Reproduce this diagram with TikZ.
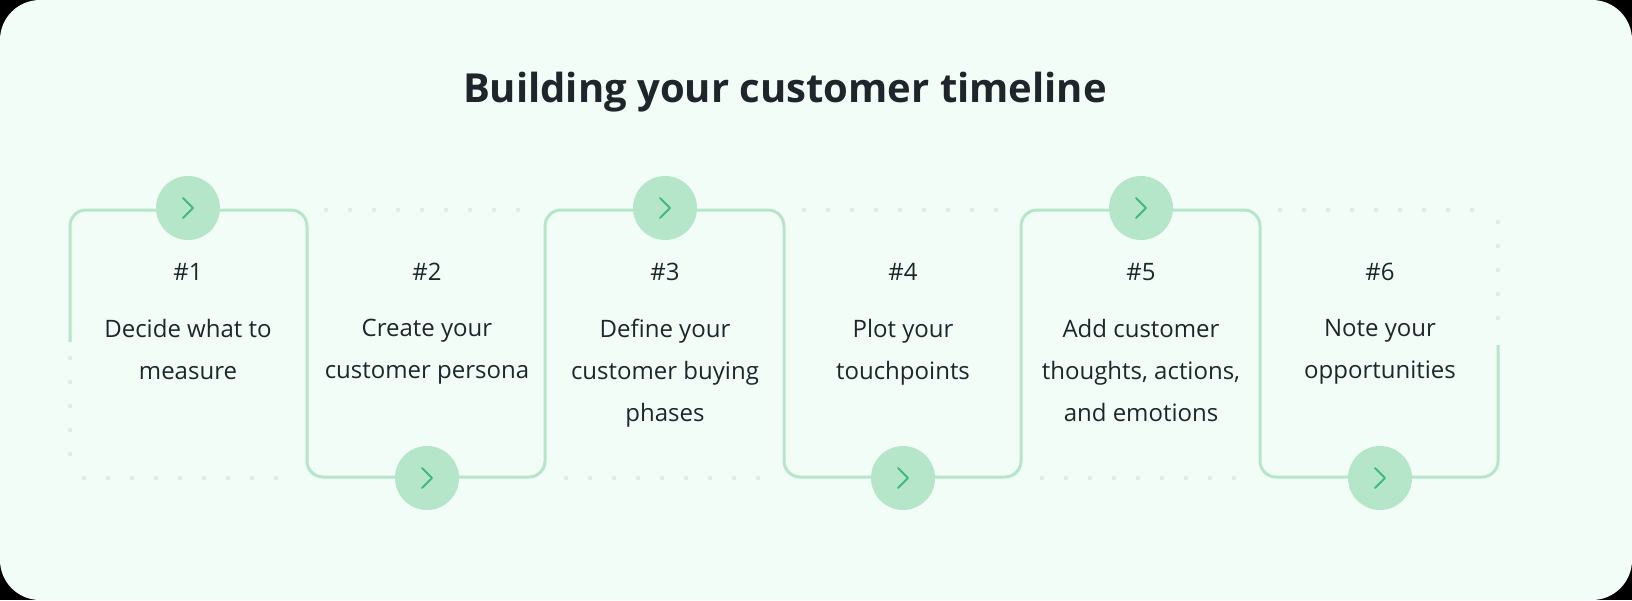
\documentclass[tikz,border=0pt]{standalone}
\usepackage{fontspec}
\setmainfont{Open Sans}
\usetikzlibrary{positioning}
\definecolor{bgmint}{HTML}{F3FDF8}
\definecolor{linegreen}{HTML}{B6E6CA}
\definecolor{dotgreen}{HTML}{DCEFE4}
\definecolor{arrowgreen}{HTML}{3DBB7A}
\definecolor{inkdark}{HTML}{1F252B}
\begin{document}
\begin{tikzpicture}[x=0.5pt,y=-0.5pt]

\tikzstyle{stepcircle}=[circle, minimum size = 32pt, inner sep=0pt, fill=linegreen]
\tikzstyle{steptext}=[align=center, text=inkdark, font=\fontsize{12}{21}\selectfont]
\tikzstyle{stepnum}=[text=inkdark, font=\fontsize{12}{14}\selectfont]
\tikzstyle{solidline}=[draw=linegreen, line width=1.5pt, rounded corners=8pt]
\tikzstyle{dotline}=[draw=dotgreen, line width=2.5pt, line cap=round, dash pattern=on 0pt off 12pt]
\tikzstyle{chevron}=[draw=arrowgreen, line width=1pt, line cap=round, line join=round]

\fill[black] (0,0) rectangle (1632,600);
\fill[bgmint, rounded corners=20pt] (0,0) rectangle (1632,600);

\node[font=\fontsize{20}{25}\selectfont\bfseries, text=inkdark] (title) at (785,92) {Building your customer timeline};

% corners of the timeline path
\coordinate (s0) at (70,342);
\coordinate (a1) at (70,210);
\coordinate (a2) at (307,210);
\coordinate (a3) at (307,477);
\coordinate (a4) at (545,477);
\coordinate (a5) at (545,210);
\coordinate (a6) at (784,210);
\coordinate (a7) at (784,477);
\coordinate (a8) at (1021,477);
\coordinate (a9) at (1021,210);
\coordinate (a10) at (1260,210);
\coordinate (a11) at (1260,477);
\coordinate (a12) at (1498,477);
\coordinate (e0) at (1498,345);

% dotted parts
\draw[dotline] (70,358) -- (70,466);
\draw[dotline] (84,478) -- (296,478);
\draw[dotline] (326,210) -- (540,210);
\draw[dotline] (566,478) -- (776,478);
\draw[dotline] (804,210) -- (1016,210);
\draw[dotline] (1042,478) -- (1252,478);
\draw[dotline] (1280,210) -- (1486,210);
\draw[dotline] (1498,222) -- (1498,334);

\draw[solidline] (s0) -- (a1) -- (a2) -- (a3) -- (a4) -- (a5) -- (a6) -- (a7) -- (a8) -- (a9) -- (a10) -- (a11) -- (a12) -- (e0);

\foreach \n/\x/\y in {1/188/208, 2/427/478, 3/665/208, 4/903/478, 5/1141/208, 6/1380/478}{
  \node[stepcircle] (c\n) at (\x,\y) {};
  \draw[chevron] ([xshift=-2.5pt,yshift=5pt]c\n.center) -- ([xshift=2.5pt]c\n.center) -- ([xshift=-2.5pt,yshift=-5pt]c\n.center);
}

\foreach \n/\x/\txt in {1/188/{Decide what to\\measure}, 2/427/{Create your\\customer persona}, 3/665/{Define your\\customer buying\\phases}, 4/903/{Plot your\\touchpoints}, 5/1141/{Add customer\\thoughts, actions,\\and emotions}, 6/1380/{Note your\\opportunities}}{
  \node[stepnum] (n\n) at (\x,272) {\#\n};
  \node[steptext, anchor=north] (t\n) at (\x,312) {\txt};
}

\end{tikzpicture}
\end{document}
